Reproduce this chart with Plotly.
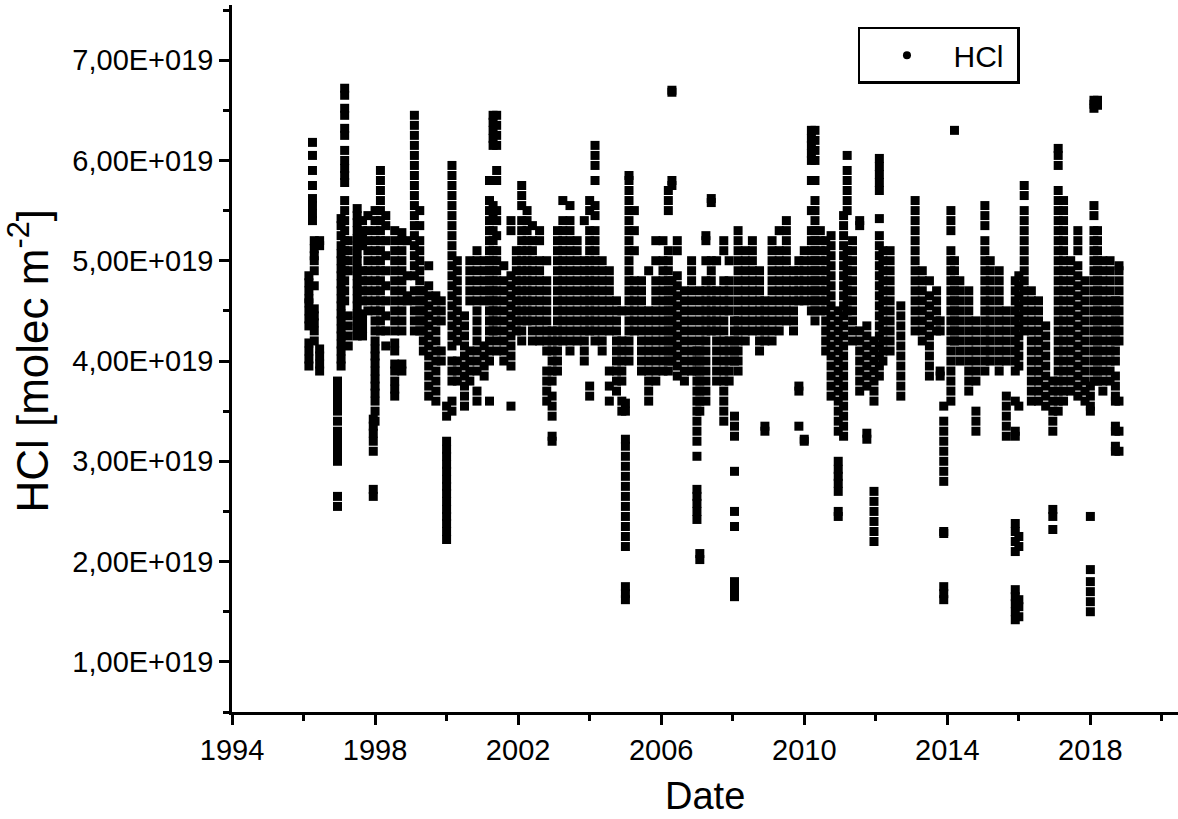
import plotly.graph_objects as go

col_dates = [
    1996.15, 1996.25, 1996.3, 1996.45,
    1996.95, 1997.05, 1997.15, 1997.25,
    1997.5, 1997.65, 1997.8,
    1997.95, 1998.0, 1998.15, 1998.3,
    1998.55, 1998.75, 1998.9,
    1999.1, 1999.25, 1999.35,
    1999.5, 1999.7, 1999.85,
    2000.0, 2000.15, 2000.3,
    2000.5, 2000.65, 2000.85,
    2001.05, 2001.2, 2001.3, 2001.4, 2001.6, 2001.8, 2001.95,
    2002.1, 2002.25, 2002.4, 2002.6, 2002.8, 2002.95,
    2003.1, 2003.25, 2003.45, 2003.65, 2003.85,
    2004.0, 2004.15, 2004.35, 2004.55, 2004.75, 2004.9,
    2005.0, 2005.1, 2005.25, 2005.45, 2005.65, 2005.85,
    2006.05, 2006.2, 2006.3, 2006.45, 2006.65, 2006.85,
    2007.0, 2007.08, 2007.25, 2007.4, 2007.55, 2007.75, 2007.9,
    2008.05, 2008.15, 2008.35, 2008.55, 2008.75, 2008.9,
    2009.1, 2009.3, 2009.5, 2009.7, 2009.85,
    2010.0, 2010.2, 2010.3, 2010.45, 2010.6, 2010.75,
    2010.95, 2011.1, 2011.2, 2011.35, 2011.55, 2011.75, 2011.95,
    2012.1, 2012.2, 2012.4, 2012.7,
    2013.1, 2013.3, 2013.5, 2013.7, 2013.8, 2013.9,
    2014.1, 2014.2, 2014.35, 2014.6, 2014.8,
    2015.05, 2015.2, 2015.45, 2015.65, 2015.9,
    2016.0, 2016.15, 2016.35, 2016.55, 2016.75, 2016.95,
    2017.1, 2017.25, 2017.45, 2017.65, 2017.85,
    2018.0, 2018.1, 2018.2, 2018.35, 2018.55, 2018.7, 2018.8,
]

col_values = [
    [3.95, 4.02, 4.1, 4.18, 4.35, 4.42, 4.5, 4.58, 4.62, 4.7, 4.78, 4.85],
    [5.4, 5.47, 5.55, 5.62, 5.75, 5.9, 6.05, 6.18],
    [4.2, 4.3, 4.38, 4.45, 4.52, 4.75, 4.9, 5.0, 5.05, 5.12, 5.2],
    [3.9, 3.97, 4.05, 4.12, 5.15, 5.2],
    [2.55, 2.65, 3.0, 3.08, 3.15, 3.22, 3.3, 3.4, 3.5, 3.57, 3.65, 3.72, 3.8],
    [3.95, 4.02, 4.1, 4.17, 4.25, 4.32, 4.4, 4.47, 4.55, 4.62, 4.7, 4.77, 4.85, 4.92, 5.0, 5.07, 5.15, 5.25, 5.35, 5.42],
    [4.6, 4.7, 4.8, 4.9, 5.0, 5.1, 5.2, 5.3, 5.4, 5.5, 5.6, 5.78, 5.85, 5.92, 6.0, 6.1, 6.25, 6.32, 6.45, 6.52, 6.65, 6.72],
    [4.15, 4.25, 4.35, 4.45, 4.9, 5.0, 5.1, 5.2],
    [4.25, 4.32, 4.4, 4.47, 4.55, 4.62, 4.7, 4.77, 4.85, 4.92, 5.0, 5.07, 5.15, 5.22, 5.3, 5.38, 5.45, 5.52],
    [4.25, 4.32, 4.4, 4.47, 4.6, 4.7, 4.8, 4.9, 5.15, 5.22, 5.3, 5.4],
    [4.5, 4.6, 4.7, 4.8, 4.9, 5.0, 5.1, 5.2, 5.3, 5.45],
    [2.65, 2.72, 3.1, 3.2, 3.28, 3.35, 3.42],
    [3.4, 3.5, 3.6, 3.68, 3.75, 3.82, 3.9, 3.98, 4.05, 4.12, 4.2, 4.3, 4.4, 4.5, 4.6, 4.7, 4.8, 4.9, 5.0, 5.1, 5.2, 5.3, 5.4, 5.5],
    [4.3, 4.4, 4.5, 4.6, 4.7, 4.8, 4.9, 5.0, 5.1, 5.2, 5.3, 5.4, 5.5, 5.6, 5.7, 5.8, 5.9],
    [4.15, 4.3, 4.45, 4.6, 4.75, 4.9, 5.05, 5.2, 5.35, 5.45],
    [3.65, 3.72, 3.8, 3.9, 3.97, 4.1, 4.18, 4.3, 4.4, 4.5, 4.6, 4.7, 4.8, 4.9, 5.0, 5.1, 5.2, 5.3],
    [3.9, 3.97, 4.3, 4.4, 4.5, 4.6, 4.7, 4.8, 4.9, 5.0, 5.1, 5.2, 5.28],
    [4.6, 4.65, 4.85, 5.2],
    [4.3, 4.4, 4.5, 4.6, 4.7, 4.85, 4.95, 5.05, 5.15, 5.25, 5.35, 5.45, 5.55, 5.65, 5.75, 5.85, 5.95, 6.05, 6.15, 6.25, 6.35, 6.45],
    [4.3, 4.4, 4.5, 4.6, 4.7, 4.8, 4.9, 5.0, 5.1, 5.2, 5.35, 5.5],
    [4.1, 4.2, 4.3, 4.4, 4.5, 4.6, 4.7],
    [3.65, 3.75, 3.85, 3.95, 4.05, 4.15, 4.25, 4.35, 4.45, 4.55, 4.65, 4.75, 4.95],
    [3.6, 3.7, 3.8, 3.9, 4.0, 4.1, 4.2, 4.3, 4.4, 4.5, 4.6, 4.65],
    [4.0, 4.1, 4.4, 4.5, 4.6],
    [2.22, 2.3, 2.38, 2.45, 2.52, 2.6, 2.68, 2.75, 2.82, 2.9, 2.97, 3.05, 3.12, 3.2, 3.45, 3.55],
    [3.5, 3.6, 3.8, 3.9, 4.0, 4.15, 4.25, 4.35, 4.45, 4.55, 4.65, 4.75, 4.85, 4.95, 5.05, 5.15, 5.25, 5.35, 5.45, 5.55, 5.65, 5.75, 5.85, 5.95],
    [3.8, 3.9, 4.0, 4.2, 4.3, 4.4, 4.5, 4.6, 4.7, 4.8, 4.9, 5.0],
    [3.55, 3.65, 3.75, 3.85, 3.95, 4.05, 4.15, 4.25, 4.35, 4.45],
    [3.8, 3.9, 4.0, 4.1, 4.6, 4.7, 4.8, 4.9, 5.0],
    [3.6, 3.7, 3.9, 4.0, 4.1, 4.2, 4.3, 4.4, 4.5, 4.6, 4.7, 4.8, 4.9, 5.0, 5.1],
    [3.85, 3.95, 4.05, 4.15, 4.6, 4.7, 4.8, 4.9, 5.0],
    [3.6, 4.0, 4.1, 4.2, 4.3, 4.4, 4.5, 4.6, 4.7, 4.8, 4.9, 5.0, 5.1, 5.2, 5.3, 5.4, 5.5, 5.6, 5.8],
    [4.3, 4.4, 4.5, 4.6, 4.7, 4.8, 4.9, 5.0, 5.1, 5.2, 5.3, 5.45, 5.55, 6.15, 6.22, 6.3, 6.38, 6.45],
    [4.1, 4.2, 4.3, 4.4, 4.5, 4.6, 4.7, 4.8, 4.9, 5.0, 5.1, 5.25, 5.4, 5.5, 5.8, 5.9, 6.15, 6.25, 6.35, 6.45],
    [4.0, 4.1, 4.2, 4.3, 4.4, 4.5, 4.6, 4.7, 4.8, 4.95],
    [3.55, 3.95, 4.05, 4.15, 4.25, 4.35, 4.45, 4.55, 4.65, 4.75, 4.85, 5.3, 5.4],
    [4.3, 4.4, 4.5, 4.6, 4.7, 4.8, 4.9, 5.0, 5.1],
    [4.2, 4.3, 4.4, 4.5, 4.6, 4.7, 4.8, 4.9, 5.0, 5.1, 5.2, 5.3, 5.4, 5.55, 5.65, 5.75],
    [4.4, 4.5, 4.6, 4.7, 4.8, 4.9, 5.0, 5.1, 5.2, 5.3, 5.4, 5.5],
    [4.2, 4.3, 4.4, 4.5, 4.6, 4.7, 4.8, 4.9, 5.0, 5.1, 5.2, 5.35],
    [4.2, 4.3, 4.4, 4.5, 4.6, 4.7, 4.8, 4.9, 5.0, 5.2, 5.3],
    [3.6, 3.7, 3.8, 3.9, 4.1, 4.2, 4.3, 4.4, 4.5, 4.6, 4.7, 4.8, 5.0],
    [3.2, 3.25, 3.45, 3.55, 3.65, 3.8, 3.9, 4.0, 4.1, 4.2, 4.3],
    [3.9, 4.0, 4.1, 4.2, 4.3, 4.4, 4.5, 4.6, 4.7, 4.8, 4.9, 5.0, 5.1, 5.2, 5.3],
    [4.2, 4.3, 4.4, 4.5, 4.6, 4.7, 4.8, 4.9, 5.0, 5.1, 5.2, 5.3, 5.4, 5.6],
    [4.1, 4.2, 4.3, 4.4, 4.5, 4.6, 4.7, 4.8, 4.9, 5.0, 5.1, 5.2, 5.3, 5.4, 5.55],
    [4.2, 4.3, 4.4, 4.5, 4.6, 4.7, 4.8, 4.9, 5.0, 5.1, 5.2],
    [4.0, 4.1, 4.2, 4.3, 4.4, 4.5, 4.6, 4.7, 4.8, 4.9, 5.0, 5.4],
    [3.65, 3.75, 4.3, 4.4, 4.5, 4.6, 4.7, 4.8, 4.9, 5.0, 5.1, 5.2, 5.3, 5.5, 5.6],
    [4.2, 4.3, 4.4, 4.5, 4.6, 4.7, 4.8, 4.9, 5.0, 5.1, 5.2, 5.3, 5.45, 5.55, 5.8, 5.95, 6.05, 6.15],
    [4.1, 4.2, 4.3, 4.4, 4.5, 4.6, 4.7, 4.8, 4.9, 5.0],
    [3.6, 3.75, 3.9, 4.3, 4.4, 4.5, 4.6, 4.7, 4.8, 4.9],
    [3.7, 3.8, 3.9, 4.0, 4.1, 4.2, 4.3, 4.4, 4.5, 4.6],
    [3.5, 3.6, 3.8, 3.9, 4.0, 4.1, 4.2, 4.5],
    [1.62, 1.68, 1.75, 2.15, 2.25, 2.35, 2.45, 2.55, 2.65, 2.75, 2.85, 2.95, 3.05, 3.15, 3.22, 3.5, 3.58],
    [4.0, 4.1, 4.2, 4.3, 4.4, 4.5, 4.6, 4.7, 4.8, 4.9, 5.0, 5.1, 5.2, 5.3, 5.4, 5.5, 5.6, 5.7, 5.8, 5.85],
    [4.3, 4.4, 4.5, 4.6, 4.7, 4.8, 5.1, 5.3, 5.5],
    [3.9, 4.0, 4.1, 4.2, 4.3, 4.4, 4.5, 4.6, 4.7, 4.8],
    [3.6, 3.7, 3.8, 3.9, 4.0, 4.1, 4.2, 4.3, 4.4, 4.5, 4.9],
    [3.8, 3.9, 4.0, 4.1, 4.2, 4.3, 4.4, 4.5, 4.6, 4.7, 4.8, 5.0, 5.2],
    [3.9, 4.0, 4.1, 4.2, 4.3, 4.4, 4.5, 4.6, 4.7, 4.8, 4.9, 5.0, 5.2],
    [3.9, 4.0, 4.1, 4.2, 4.3, 4.4, 4.5, 4.6, 4.7, 4.8, 4.9, 5.0, 5.1, 5.5, 5.6, 5.7],
    [4.0, 4.1, 4.2, 4.3, 4.4, 4.5, 4.6, 4.7, 4.8, 5.75, 5.8, 6.68, 6.7],
    [3.85, 3.95, 4.05, 4.15, 4.25, 4.35, 4.45, 4.55, 4.65, 4.75, 4.85, 5.1, 5.2],
    [3.8, 3.9, 4.0, 4.1, 4.2, 4.3, 4.4, 4.5, 4.6, 4.7],
    [3.9, 4.0, 4.1, 4.2, 4.3, 4.4, 4.5, 4.6, 4.7, 4.8, 4.9, 5.0],
    [2.42, 2.5, 2.58, 2.65, 2.72, 3.05, 3.2, 3.3, 3.4, 3.5, 3.6, 3.7, 3.8, 3.9, 4.0, 4.1],
    [2.02, 2.08, 3.5, 3.6, 3.7, 3.8, 3.9, 4.0, 4.1, 4.2, 4.3, 4.4, 4.5, 4.6, 4.7],
    [3.6, 3.7, 3.8, 3.9, 4.0, 4.1, 4.2, 4.3, 4.4, 4.5, 4.6, 4.7, 4.8, 5.0, 5.2, 5.25],
    [4.3, 4.4, 4.5, 4.6, 4.7, 4.8, 4.9, 5.0, 5.58, 5.62],
    [3.8, 3.9, 4.0, 4.1, 4.2, 4.3, 4.4, 4.5, 4.6, 4.7, 5.0],
    [3.4, 3.5, 3.6, 3.7, 3.8, 3.9, 4.0, 4.1, 4.2, 4.3, 4.4, 4.5, 4.6, 4.7, 4.8, 5.1, 5.2],
    [3.8, 3.9, 4.0, 4.1, 4.2, 4.5, 4.6, 4.7, 4.8, 5.0],
    [1.65, 1.72, 1.8, 2.35, 2.5, 2.9, 3.25, 3.35, 3.45, 4.0, 4.1, 4.2, 4.3, 4.4],
    [3.9, 4.0, 4.1, 4.2, 4.3, 4.4, 4.5, 4.6, 4.7, 4.8, 4.9, 5.0, 5.1, 5.2, 5.3],
    [4.2, 4.3, 4.4, 4.5, 4.6, 4.7, 4.8, 4.9, 5.0, 5.1],
    [4.3, 4.4, 4.5, 4.6, 4.7, 4.8, 4.9, 5.0, 5.1, 5.2],
    [4.1, 4.2, 4.3, 4.4, 4.5, 4.6, 4.7, 4.8, 4.9],
    [3.3, 3.35, 4.2, 4.3, 4.4, 4.5, 4.6],
    [4.2, 4.3, 4.4, 4.5, 4.6, 4.7, 4.8, 4.9, 5.0, 5.1, 5.2],
    [4.3, 4.4, 4.5, 4.6, 4.7, 4.8, 4.9, 5.0, 5.1, 5.3],
    [4.4, 4.5, 4.6, 4.7, 4.8, 4.9, 5.0, 5.1, 5.2, 5.3, 5.4],
    [4.3, 4.4, 4.5, 4.6, 4.7, 4.8, 4.9],
    [3.35, 3.7, 3.75, 4.6, 4.7, 4.8, 4.9, 5.0],
    [3.2, 3.22, 4.6, 4.7, 4.8, 4.9, 5.0, 5.1],
    [4.5, 4.6, 4.7, 4.8, 4.9, 5.0, 5.1, 5.2, 5.3, 5.5, 5.8, 6.0, 6.07, 6.15, 6.22, 6.3],
    [4.4, 4.5, 4.6, 4.7, 4.8, 4.9, 5.0, 5.1, 5.2, 5.3, 5.4, 5.5, 5.6, 5.8, 6.0, 6.1, 6.2, 6.3],
    [4.5, 4.6, 4.7, 4.8, 4.9, 5.0, 5.1, 5.2, 5.3],
    [4.1, 4.2, 4.3, 4.4, 4.5, 4.6, 4.7, 4.8, 4.9, 5.0, 5.1, 5.2],
    [3.65, 3.75, 3.85, 3.95, 4.05, 4.15, 4.25, 4.35, 4.45, 4.55, 4.65, 4.75, 4.85, 4.95, 5.05, 5.15, 5.25],
    [2.45, 2.5, 2.7, 2.78, 2.85, 2.92, 3.0, 3.3, 3.4, 3.5, 3.6, 3.7, 3.8, 3.9, 4.0, 4.1, 4.2, 4.3, 4.4, 4.5],
    [3.25, 3.35, 3.45, 3.55, 3.65, 3.75, 3.85, 3.95, 4.05, 4.15, 4.25, 4.35, 4.45, 4.55, 4.65, 4.75, 4.85, 4.95, 5.05, 5.15, 5.25, 5.35, 5.45],
    [4.5, 4.6, 4.7, 4.8, 4.9, 5.0, 5.1, 5.5, 5.6, 5.7, 5.8, 5.9, 6.05],
    [4.2, 4.3, 4.4, 4.5, 4.6, 4.7, 4.8, 4.9, 5.0, 5.1, 5.2],
    [3.7, 3.8, 3.9, 4.0, 4.1, 4.2, 4.3, 5.35, 5.4],
    [3.22, 3.28, 3.75, 3.85, 3.95, 4.05, 4.15, 4.25, 4.35],
    [2.2, 2.3, 2.4, 2.5, 2.6, 2.7, 3.6, 3.7, 3.8, 3.9, 4.0, 4.1, 4.2],
    [3.85, 3.95, 4.05, 4.15, 4.25, 4.35, 4.45, 4.55, 4.65, 4.75, 4.85, 4.95, 5.05, 5.15, 5.25, 5.42, 5.7, 5.78, 5.86, 5.94, 6.02],
    [4.0, 4.1, 4.2, 4.3, 4.4, 4.5, 4.6, 4.7, 4.8, 4.9, 5.0, 5.1],
    [4.1, 4.2, 4.3, 4.4, 4.5, 4.6, 4.7, 4.8, 4.9, 5.0, 5.1],
    [3.65, 3.75, 3.85, 3.95, 4.05, 4.15, 4.25, 4.35, 4.45, 4.55],
    [4.3, 4.4, 4.5, 4.6, 4.7, 4.8, 4.9, 5.0, 5.1, 5.2, 5.3, 5.4, 5.5, 5.6],
    [4.2, 4.3, 4.4, 4.5, 4.6, 4.7, 4.8, 4.9],
    [3.85, 3.95, 4.05, 4.15, 4.25, 4.35, 4.45, 4.55, 4.65, 4.8],
    [4.3, 4.4, 4.5, 4.6, 4.7],
    [3.85, 3.9, 4.3, 4.4],
    [1.62, 1.68, 1.75, 2.28, 2.3, 2.8, 2.9, 3.0, 3.1, 3.2, 3.3, 3.4, 3.55],
    [3.6, 3.7, 3.8, 3.9, 4.0, 4.1, 4.2, 4.3, 4.4, 4.5, 4.6, 4.7, 4.8, 4.9, 5.0, 5.1, 5.3, 5.4, 5.5],
    [4.2, 4.3, 4.4, 4.5, 4.6, 4.7, 4.8, 4.9, 5.0, 6.3],
    [4.0, 4.1, 4.2, 4.3, 4.4, 4.5, 4.6, 4.7, 4.8],
    [3.7, 3.8, 3.9, 4.0, 4.1, 4.2, 4.3, 4.4, 4.5, 4.6, 4.7],
    [3.3, 3.4, 3.5, 3.8, 3.9, 4.0, 4.1, 4.2, 4.3, 4.4],
    [3.9, 4.0, 4.1, 4.2, 4.3, 4.4, 4.5, 4.6, 4.7, 4.8, 4.9, 5.0, 5.1, 5.2, 5.35, 5.45, 5.55],
    [4.0, 4.1, 4.2, 4.3, 4.4, 4.5, 4.6, 4.7, 4.8, 4.9, 5.0],
    [3.9, 4.0, 4.1, 4.2, 4.3, 4.4, 4.5, 4.6, 4.7, 4.8, 4.9],
    [3.25, 3.35, 3.45, 3.55, 3.65, 4.0, 4.1, 4.2, 4.3, 4.4, 4.5],
    [1.42, 1.5, 1.58, 1.65, 1.72, 2.1, 2.2, 2.3, 2.38, 3.25, 3.3, 3.6, 3.9, 4.0, 4.1, 4.2, 4.3, 4.4, 4.5, 4.6, 4.7, 4.8],
    [1.45, 1.55, 1.62, 2.15, 2.25, 3.55, 3.95, 4.05, 4.15, 4.25, 4.35, 4.45, 4.55, 4.65, 4.75, 4.85],
    [4.3, 4.4, 4.5, 4.6, 4.7, 4.8, 4.9, 5.0, 5.1, 5.2, 5.3, 5.4, 5.5, 5.65, 5.75],
    [3.6, 3.7, 3.8, 3.9, 4.0, 4.1, 4.2, 4.3, 4.4, 4.5, 4.6, 4.7],
    [3.6, 3.7, 3.8, 3.9, 4.0, 4.1, 4.2, 4.3, 4.4, 4.5, 4.6],
    [3.55, 3.65, 3.75, 3.85, 3.95, 4.05, 4.15, 4.25, 4.35],
    [2.32, 2.45, 2.52, 3.3, 3.4, 3.5, 3.6, 3.7, 3.8],
    [3.5, 3.6, 3.7, 3.8, 3.9, 4.0, 4.1, 4.2, 4.3, 4.4, 4.5, 4.6, 4.7, 4.8, 4.9, 5.0, 5.1, 5.2, 5.3, 5.4, 5.5, 5.6, 5.7, 5.95, 6.05, 6.12],
    [3.6, 3.7, 3.8, 3.9, 4.0, 4.1, 4.2, 4.3, 4.4, 4.5, 4.6, 4.7, 4.8, 4.9, 5.0, 5.1, 5.2, 5.3, 5.4, 5.5, 5.6],
    [3.7, 3.8, 3.9, 4.0, 4.1, 4.2, 4.3, 4.4, 4.5, 4.6, 4.7, 4.8, 4.9, 5.0],
    [3.65, 3.75, 3.85, 3.95, 4.05, 4.15, 4.25, 4.35, 4.45, 4.55, 4.65, 4.75, 4.85, 4.95, 5.1, 5.2, 5.3],
    [3.6, 3.7, 3.8, 3.9, 4.0, 4.1, 4.2, 4.3, 4.4, 4.5, 4.6, 4.7, 4.8],
    [1.5, 1.6, 1.7, 1.8, 1.92, 2.45, 3.5, 3.55, 3.65, 3.75],
    [3.8, 3.9, 4.0, 4.1, 4.2, 4.3, 4.4, 4.5, 4.6, 4.7, 4.8, 4.9, 5.0, 5.1, 5.2, 5.3, 5.45, 5.55, 6.52, 6.56, 6.6],
    [3.8, 3.9, 4.0, 4.1, 4.2, 4.3, 4.4, 4.5, 4.6, 4.7, 4.8, 4.9, 5.0, 5.1, 5.2, 5.3, 6.55, 6.6],
    [3.7, 3.8, 3.9, 4.0, 4.1, 4.2, 4.3, 4.4, 4.5, 4.6, 4.7, 4.8, 4.9, 5.0],
    [3.8, 3.9, 4.0, 4.1, 4.2, 4.3, 4.4, 4.5, 4.6, 4.7, 4.8, 4.9, 5.0],
    [3.1, 3.15, 3.3, 3.35, 3.6, 3.65, 3.75, 3.85, 4.0, 4.1, 4.2, 4.3, 4.4, 4.5, 4.6],
    [3.1, 3.3, 3.6, 4.2, 4.3, 4.4, 4.5, 4.6, 4.7, 4.8, 4.9, 4.95],
]

x_ticks = [1994, 1998, 2002, 2006, 2010, 2014, 2018]
x_minor = [1996, 2000, 2004, 2008, 2012, 2016, 2020]
y_ticks = [1, 2, 3, 4, 5, 6, 7]
y_labels = ["1,00E+019", "2,00E+019", "3,00E+019", "4,00E+019",
            "5,00E+019", "6,00E+019", "7,00E+019"]
y_minor = [0.5, 1.5, 2.5, 3.5, 4.5, 5.5, 6.5, 7.5]

xs, ys = [], []
for d, vals in zip(col_dates, col_values):
    xs.extend([d] * len(vals))
    ys.extend(vals)

FONT = "Arial, Liberation Sans, sans-serif"

fig = go.Figure()
fig.add_trace(go.Scatter(
    x=xs, y=ys, mode="markers", name="HCl", showlegend=False,
    marker=dict(symbol="square", size=9, color="black", line=dict(width=0)),
))
fig.add_trace(go.Scatter(
    x=[None], y=[None], mode="markers", name="HCl\u00a0",
    marker=dict(symbol="circle", size=8, color="black"),
))

axis_common = dict(
    showline=True, linecolor="black", linewidth=2.5,
    ticks="outside", ticklen=10, tickwidth=2.5, tickcolor="black",
    showgrid=False, zeroline=False, mirror=False,
    tickfont=dict(family=FONT, size=29, color="black"),
)

fig.update_xaxes(
    range=[1994, 2020.45], tickmode="array", tickvals=x_ticks,
    minor=dict(tickmode="array", tickvals=x_minor, ticklen=6, tickwidth=2.5,
               tickcolor="black", ticks="outside"),
    **axis_common,
)
fig.update_yaxes(
    range=[0.5, 7.55], tickmode="array", tickvals=y_ticks, ticktext=y_labels,
    minor=dict(tickmode="array", tickvals=y_minor, ticklen=6, tickwidth=2.5,
               tickcolor="black", ticks="outside"),
    **axis_common,
)

fig.update_layout(
    width=1178, height=819,
    margin=dict(l=232, r=0, t=5, b=107),
    paper_bgcolor="white", plot_bgcolor="white",
    font=dict(family=FONT, color="black"),
    legend=dict(
        x=0.6617, y=0.929, xanchor="left", yanchor="middle",
        bordercolor="black", borderwidth=2.5, bgcolor="white",
        font=dict(family=FONT, size=30, color="black"),
        itemwidth=83,
    ),
    annotations=[
        dict(text="HCl [molec m<sup>-2</sup>]", textangle=-90,
             xref="paper", yref="paper", x=-0.2146, y=0.497,
             xanchor="center", yanchor="middle", showarrow=False,
             font=dict(family=FONT, size=44, color="black")),
        dict(text="Date", xref="paper", yref="paper", x=0.5, y=-0.1516,
             xanchor="center", yanchor="bottom", showarrow=False,
             font=dict(family=FONT, size=38, color="black")),
    ],
)

fig.write_html("out.html")
